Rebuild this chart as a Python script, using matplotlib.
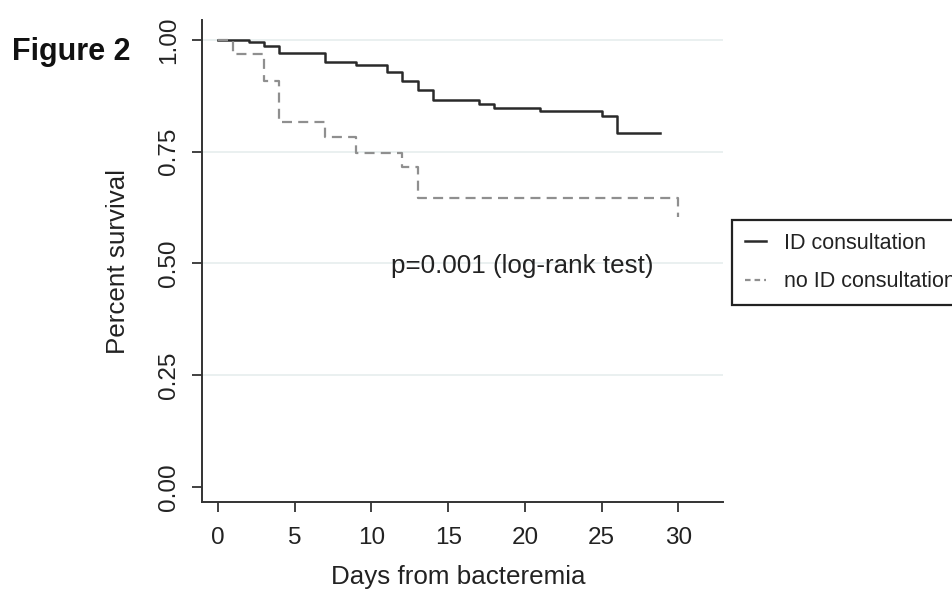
import matplotlib
matplotlib.use("Agg")
import matplotlib.pyplot as plt
from matplotlib.lines import Line2D

# Kaplan-Meier curves
id_days = [0, 2, 3, 4, 7, 9, 11, 12, 13, 14, 17, 18, 21, 25, 26, 28.8]
id_surv = [1.0, 0.995, 0.987, 0.972, 0.951, 0.944, 0.929, 0.909, 0.888, 0.867,
           0.858, 0.849, 0.841, 0.831, 0.791, 0.791]

noid_days = [0, 1, 3, 4, 7, 9, 12, 13, 30]
noid_surv = [1.0, 0.968, 0.908, 0.817, 0.783, 0.748, 0.716, 0.646, 0.605]

x_ticks = [0, 5, 10, 15, 20, 25, 30]
y_ticks = [0.0, 0.25, 0.50, 0.75, 1.00]
y_tick_labels = ["0.00", "0.25", "0.50", "0.75", "1.00"]
series_labels = ["ID consultation", "no ID consultation"]

W, H = 952, 594
fig = plt.figure(figsize=(W / 100, H / 100), dpi=100)
fig.patch.set_facecolor("white")

sans = ["Liberation Sans", "DejaVu Sans"]
txt_col = "#222222"

ax = fig.add_axes([202 / W, 1 - 502 / H, (723 - 202) / W, (502 - 20) / H])
ax.set_xlim(-1.04, 32.9)
ax.set_ylim(-0.034, 1.045)

for yv in y_ticks[1:]:
    ax.axhline(yv, color="#e6eeee", lw=1.2, zorder=0)

ax.step(id_days, id_surv, where="post", color="#2a2a2a", lw=1.8, zorder=3)
ax.step(noid_days, noid_surv, where="post", color="#8f8f8f", lw=1.6,
        dashes=(4.5, 2.8), zorder=3)

for s in ["top", "right"]:
    ax.spines[s].set_visible(False)
for s in ["left", "bottom"]:
    ax.spines[s].set_linewidth(1.4)
    ax.spines[s].set_color("#333333")

ax.set_xticks(x_ticks)
ax.set_xticklabels([str(v) for v in x_ticks], fontfamily=sans, fontsize=17.5, color=txt_col)
ax.set_yticks(y_ticks)
ax.set_yticklabels(y_tick_labels, fontfamily=sans, fontsize=17.5, color=txt_col,
                   rotation=90, va="center")
ax.tick_params(axis="both", length=7, width=1.3, color="#333333", direction="out")
ax.tick_params(axis="x", pad=11)
ax.tick_params(axis="y", pad=9)

ax.text(11.3, 0.495, "p=0.001 (log-rank test)", fontfamily=sans, fontsize=18.7,
        color=txt_col, ha="left", va="center")

fig.text(118 / W, 1 - 261 / H, "Percent survival", rotation=90, ha="center",
         va="center", fontfamily=sans, fontsize=18.7, color=txt_col)
fig.text(458 / W, 1 - 577 / H, "Days from bacteremia", ha="center", va="center",
         fontfamily=sans, fontsize=18.7, color=txt_col)
fig.text(12 / W, 1 - 52 / H, "Figure 2", ha="left", va="center",
         fontfamily=sans, fontsize=22, fontweight="bold", color="#111111")

handles = [Line2D([], [], color="#2a2a2a", lw=1.8),
           Line2D([], [], color="#8f8f8f", lw=1.6, dashes=(2.5, 1.8))]
leg = fig.legend(handles, series_labels, loc="upper left",
                 bbox_to_anchor=(732 / W, 1 - 220 / H), bbox_transform=fig.transFigure,
                 borderaxespad=0, frameon=True, fancybox=False, framealpha=1,
                 prop={"family": sans, "size": 15.5},
                 handlelength=1.0, handletextpad=0.8, borderpad=0.6,
                 labelspacing=0.8)
leg.get_frame().set_edgecolor("#222222")
leg.get_frame().set_linewidth(1.6)
for t in leg.get_texts():
    t.set_color(txt_col)

fig.savefig("out.png", dpi=100)
